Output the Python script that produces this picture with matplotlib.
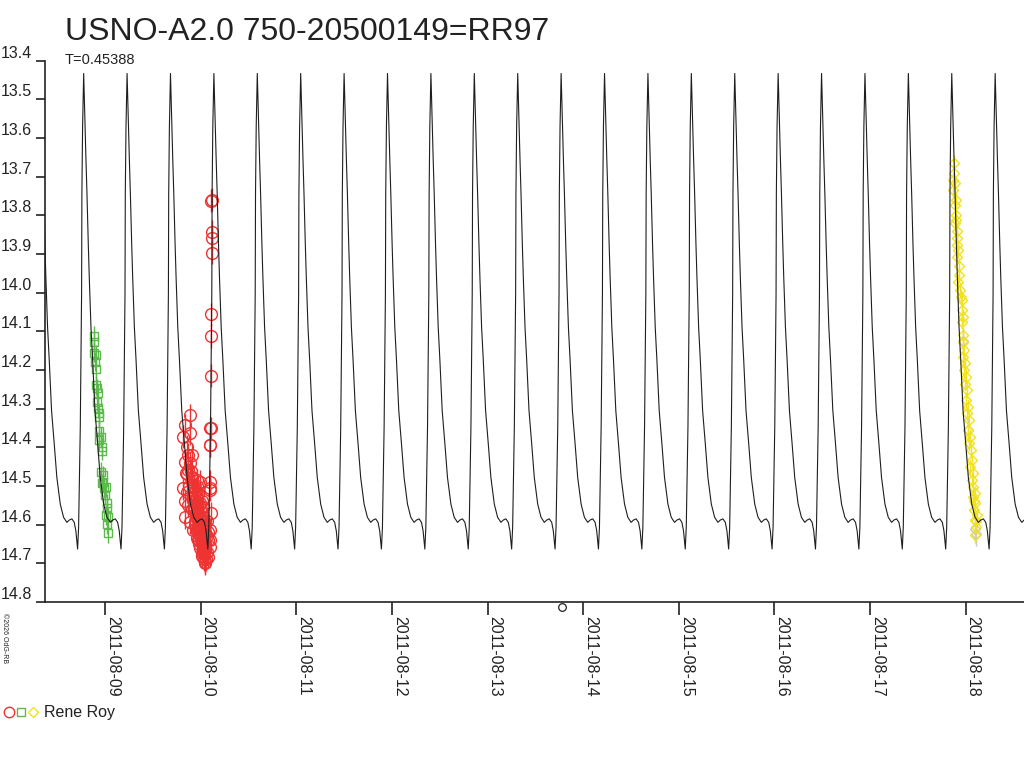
"""Light curve of USNO-A2.0 750-20500149 (RR97) with Rene Roy's observations."""
from datetime import datetime

import numpy as np
import matplotlib
matplotlib.use("Agg")
import matplotlib.pyplot as plt
import matplotlib.dates as mdates
from matplotlib.legend_handler import HandlerTuple
from matplotlib.lines import Line2D

plt.rcParams["font.family"] = ["Liberation Sans", "DejaVu Sans"]

TITLE = "USNO-A2.0 750-20500149=RR97"
PERIOD = 0.45388                     # days
EPOCH_MAX = 2.0464                   # days after 2011-08-09 00:00, one maximum
BASE = mdates.date2num(datetime(2011, 8, 9))

# model light curve, one cycle: phase from maximum -> magnitude
tmpl_phase = [0.000, 0.014, 0.030, 0.053, 0.076, 0.106, 0.129, 0.168, 0.207, 0.260,
              0.322, 0.382, 0.461, 0.537, 0.613, 0.668, 0.728, 0.783, 0.820, 0.860,
              0.883, 0.899, 0.922, 0.936, 0.952, 0.959, 0.975]
tmpl_mag = [13.433, 13.493, 13.571, 13.657, 13.744, 13.873, 13.960, 14.089, 14.175, 14.305,
            14.391, 14.478, 14.547, 14.581, 14.594, 14.588, 14.585, 14.594, 14.616, 14.663,
            14.607, 14.504, 14.348, 14.175, 14.003, 13.744, 13.571]

# observations (days after 2011-08-09 00:00 UT, magnitude)
green_t = [-0.112, -0.112, -0.115, -0.097, -0.100, -0.097, -0.094, -0.087, -0.076, -0.087,
           -0.070, -0.066, -0.063, -0.060, -0.042, -0.063, -0.031, -0.028, -0.042, -0.024,
           -0.018, -0.031, -0.010, 0.010, 0.000, 0.018, 0.024, 0.010, 0.035, 0.024, 0.035]
green_mag = [14.112, 14.127, 14.155, 14.161, 14.178, 14.198, 14.239, 14.247, 14.260, 14.282,
             14.299, 14.312, 14.322, 14.357, 14.373, 14.381, 14.398, 14.409, 14.463, 14.472,
             14.489, 14.493, 14.506, 14.503, 14.523, 14.545, 14.558, 14.575, 14.580, 14.599,
             14.622]

red_t = [1.116, 1.105, 1.116, 1.116, 1.116, 1.105, 1.105, 1.105, 1.105, 1.098,
         1.098, 1.098, 1.105, 1.098, 1.098,
         0.889, 0.837, 0.889, 0.854, 0.837, 0.889, 0.871, 0.907, 0.959, 0.993,
         0.854, 0.923, 0.976, 0.871, 0.941, 0.993, 1.028, 0.889, 0.959, 1.011,
         0.923, 0.993, 1.045, 0.976, 1.028, 1.080, 1.011, 1.063, 1.045, 1.080,
         1.098, 1.098, 1.098, 1.098, 0.819, 0.819, 0.837, 0.847, 0.837,
         0.941, 0.959, 0.976, 0.993, 1.011, 1.028, 0.923, 0.941, 0.959, 0.976,
         0.993, 1.011, 1.028, 1.045, 0.959, 0.976, 1.011, 1.045, 1.063, 1.063,
         0.907, 0.871, 0.907, 1.080, 1.028, 1.045,
         0.930, 0.950, 0.965, 0.985, 1.000, 1.020, 0.935, 0.955, 0.970, 0.990,
         1.005, 1.025, 1.040, 0.945, 0.965, 0.985, 1.000, 1.018, 1.035, 1.050,
         0.960, 0.980, 0.998, 1.015, 1.032, 1.055, 0.915, 0.900, 0.880, 0.862]
red_mag = [13.759, 13.762, 13.842, 13.859, 13.897, 14.056, 14.112, 14.215, 14.351, 14.394,
           14.489, 14.510, 14.571, 14.614, 14.640,
           14.317, 14.343, 14.364, 14.398, 14.437, 14.441, 14.459, 14.476, 14.485, 14.489,
           14.515, 14.510, 14.519, 14.549, 14.536, 14.545, 14.554, 14.593, 14.580, 14.571,
           14.614, 14.610, 14.618, 14.640, 14.648, 14.640, 14.674, 14.670, 14.696, 14.683,
           14.657, 14.351, 14.394, 14.506, 14.372, 14.506, 14.580, 14.466, 14.540,
           14.560, 14.545, 14.570, 14.585, 14.600, 14.590, 14.530, 14.600, 14.620, 14.605,
           14.630, 14.625, 14.615, 14.650, 14.500, 14.520, 14.540, 14.600, 14.630, 14.590,
           14.420, 14.420, 14.560, 14.620, 14.670, 14.700,
           14.500, 14.510, 14.530, 14.550, 14.560, 14.580, 14.560, 14.575, 14.590, 14.600,
           14.615, 14.600, 14.620, 14.590, 14.610, 14.625, 14.640, 14.650, 14.660, 14.665,
           14.635, 14.650, 14.660, 14.680, 14.690, 14.690, 14.480, 14.460, 14.500, 14.470]

yellow_t = [8.881, 8.870, 8.888, 8.870, 8.899, 8.888, 8.899, 8.888, 8.912, 8.906,
            8.923, 8.906, 8.933, 8.923, 8.941, 8.948, 8.958, 8.969, 8.958, 8.969,
            8.975, 8.982, 8.975, 8.993, 8.982, 9.003, 8.993, 9.011, 9.003, 9.027,
            9.011, 9.038, 9.027, 9.045, 9.038, 9.052, 9.063, 9.045, 9.073, 9.063,
            9.079, 9.097, 9.073, 9.097, 9.087, 9.115, 9.097, 9.108, 9.097, 8.881,
            8.899, 8.912, 8.933, 8.958, 9.087, 9.108]
yellow_mag = [13.665, 13.709, 13.717, 13.734, 13.760, 13.773, 13.812, 13.821, 13.859, 13.877,
              13.890, 13.907, 13.954, 13.972, 13.993, 14.010, 14.045, 14.062, 14.075, 14.110,
              14.127, 14.148, 14.166, 14.183, 14.200, 14.217, 14.235, 14.252, 14.278, 14.295,
              14.312, 14.329, 14.355, 14.373, 14.390, 14.407, 14.433, 14.450, 14.467, 14.485,
              14.502, 14.519, 14.528, 14.545, 14.562, 14.575, 14.588, 14.605, 14.627, 13.690,
              13.800, 13.840, 13.930, 14.020, 14.540, 14.590]

gray_t = [8.975, 9.027, 9.097, 9.108]
gray_mag = [14.126, 14.355, 14.610, 14.625]

odd_t = [4.779]
odd_mag = [14.813]

yticks = np.round(np.arange(13.4, 14.81, 0.1), 1)

# repeat the one-cycle template over the whole time span
cycles = np.arange(-6, 17)
curve_t = np.concatenate([EPOCH_MAX + (k + np.array(tmpl_phase)) * PERIOD for k in cycles])
curve_mag = np.tile(tmpl_mag, len(cycles))

W, H = 1024, 768
fig = plt.figure(figsize=(W / 100, H / 100), dpi=100)
ax = fig.add_axes([45 / W, 1 - 602 / H, 1 - 45 / W, (602 - 60.7) / H])

def dates(t):
    return BASE + np.asarray(t, dtype=float)

ax.errorbar(dates(green_t), green_mag, yerr=0.025, fmt="s", ms=6, mfc="none",
            mec="#5cb94c", ecolor="#5cb94c", elinewidth=1, mew=1, capsize=0, zorder=3)
ax.errorbar(dates(red_t), red_mag, yerr=0.03, fmt="o", ms=8.5, mfc="none",
            mec="#ee3333", ecolor="#ee3333", elinewidth=1, mew=1, capsize=0, zorder=3)
ax.errorbar(dates(gray_t), gray_mag, yerr=0.03, fmt="D", ms=5, mfc="none",
            mec="#c8c8c8", ecolor="#c8c8c8", elinewidth=1, mew=1, capsize=0, zorder=3)
ax.errorbar(dates(yellow_t), yellow_mag, yerr=0.02, fmt="D", ms=5, mfc="none",
            mec="#f2e21e", ecolor="#f2e21e", elinewidth=1, mew=1, capsize=0, zorder=3)
ax.plot(dates(odd_t), odd_mag, "o", ms=5.5, mfc="none", mec="#222222", mew=0.9,
        clip_on=False, zorder=3)

ax.plot(dates(curve_t), curve_mag, color="#1e1e1e", lw=0.8, zorder=4)

ax.set_xlim(BASE - 0.6274, BASE + 9.610)
ax.set_ylim(14.8, 13.4)
ax.set_yticks(yticks)
ax.set_yticklabels([f"{v:.1f}" for v in yticks])
ax.xaxis.set_major_locator(mdates.DayLocator())
ax.xaxis.set_major_formatter(mdates.DateFormatter("%Y-%m-%d"))

for s in ("top", "right"):
    ax.spines[s].set_visible(False)
for s in ("left", "bottom"):
    ax.spines[s].set_color("#222222")
    ax.spines[s].set_linewidth(1.2)
ax.tick_params(axis="y", direction="out", length=6.5, width=1.2, pad=3,
               labelsize=11.5, colors="#222222")
ax.tick_params(axis="x", direction="out", length=9.4, width=1.2, pad=1,
               labelsize=11.5, colors="#222222")
for lab in ax.get_yticklabels():
    lab.set_verticalalignment("bottom")
for lab in ax.get_xticklabels():
    lab.set_rotation(270)
    lab.set_horizontalalignment("left")
    lab.set_verticalalignment("top")

fig.text(65 / W, 1 - 40 / H, TITLE, fontsize=23, color="#222222", va="baseline")
fig.text(65 / W, 1 - 64 / H, f"T={PERIOD}", fontsize=10.5, color="#222222", va="baseline")
fig.text(1 / W, 1 - 613 / H, "\u00a92026 OdG-RB", fontsize=5, rotation=270,
         color="#222222", ha="left", va="top")

h_o = Line2D([], [], ls="none", marker="o", ms=7.5, mfc="none", mec="#ee3333", mew=1)
h_s = Line2D([], [], ls="none", marker="s", ms=5.3, mfc="none", mec="#5cb94c", mew=1)
h_d = Line2D([], [], ls="none", marker="D", ms=5.3, mfc="none", mec="#f2e21e", mew=1)
fig.legend([(h_o, h_s, h_d)], ["Rene Roy"], handler_map={tuple: HandlerTuple(ndivide=None, pad=0)},
           loc="center left", bbox_to_anchor=(3 / W, 1 - 713 / H), bbox_transform=fig.transFigure,
           frameon=False, fontsize=11.5, handlelength=2.25, handletextpad=0.3,
           borderpad=0, borderaxespad=0, labelcolor="#222222")

fig.savefig("out.png", dpi=100, facecolor="white")
